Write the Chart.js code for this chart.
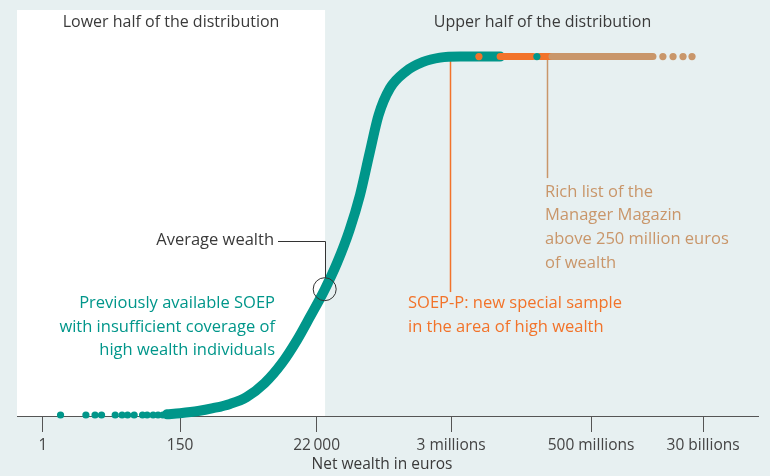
<!DOCTYPE html>
<html><head><meta charset="utf-8">
<script src="https://cdn.jsdelivr.net/npm/chart.js@4/dist/chart.umd.min.js"></script>
<style>html,body{margin:0;padding:0;background:#e7f0f1;}#wrap{width:770px;height:476px;}</style>
</head><body><div id="wrap"><canvas id="c" width="770" height="476"></canvas></div>
<script>
// ---- axis ticks ----
const tickValues = [1, 150, 22000, 3000000, 500000000, 30000000000];
const tickLabels = ['1', '150', '22\u2009000', '3 millions', '500 millions', '30 billions'];

// ---- previously available SOEP: net wealth (euros) and cumulative share ----
const soepWealth = [93, 150, 290, 500, 930, 1700, 3300, 6220, 10760, 17180, 29400, 46400, 73300, 107600, 152800, 212400, 322000, 557000, 1080000, 2000000, 4200000, 18000000];
const soepShare  = [0.002, 0.005, 0.011, 0.019, 0.031, 0.050, 0.089, 0.145, 0.209, 0.273, 0.349, 0.424, 0.516, 0.614, 0.731, 0.837, 0.912, 0.957, 0.985, 0.997, 1.0, 1.0];
// sparse SOEP observations at the lowest wealth levels
const soepLowWealth = [1.9, 4.8, 6.7, 8.5, 14, 18, 22, 28, 38, 45, 56, 67, 80];
const soepLowShare  = [0, 0, 0, 0, 0, 0, 0, 0, 0, 0, 0, 0, 0];
// single SOEP observation among the SOEP-P range
const soepTopWealth = [69000000];
const soepTopShare  = [1.0];

// ---- SOEP-P: new special sample in the area of high wealth ----
const soepPWealthA = [18000000, 60000000];
const soepPShareA  = [1.0, 1.0];
const soepPWealthB = [77000000, 120000000];
const soepPShareB  = [1.0, 1.0];
const soepPDotWealth = [8300000];
const soepPDotShare  = [1.0];

// ---- Rich list of the Manager Magazin ----
const richWealth = [120000000, 4800000000];
const richShare  = [1.0, 1.0];
const richDotWealth = [6900000000, 10000000000, 14400000000, 20000000000];
const richDotShare  = [1.0, 1.0, 1.0, 1.0];

// ---- annotation anchors (data values) ----
const lowerHalfLimit = 30000;
const averageWealth = 29600;
const averageShare = 0.351;
const soepPMarkerWealth = 3000000;
const soepPMarkerShare = 0.343;
const richMarkerWealth = 100000000;
const richMarkerShare = 0.661;

const TEAL = '#00968a', ORANGE = '#f2732a', TAN = '#c9966a', TXT = '#3a3a3a';
const FONT = "'Open Sans', sans-serif";

const pts = (xs, ys) => xs.map((x, i) => ({ x: x, y: ys[i] }));

const lineDs = (data, color, width, order) => ({
  data, showLine: true, borderColor: color, borderWidth: width, borderCapStyle: 'round',
  borderJoinStyle: 'round', cubicInterpolationMode: 'monotone', pointRadius: 0, clip: false, order
});
const dotDs = (data, color, order) => ({
  data, showLine: false, pointRadius: 3.6, pointBorderWidth: 0,
  pointBackgroundColor: color, clip: false, order
});

const bgPlugin = {
  id: 'bg',
  beforeDraw(chart) {
    const { ctx, chartArea: a, scales: { x } } = chart;
    ctx.save();
    ctx.fillStyle = '#e7f0f1';
    ctx.fillRect(0, 0, chart.width, chart.height);
    ctx.fillStyle = '#ffffff';
    const xr = x.getPixelForValue(lowerHalfLimit);
    ctx.fillRect(a.left, a.top, xr - a.left, a.bottom - a.top);
    ctx.restore();
  },
  beforeDatasetsDraw(chart) {
    const { ctx, scales: { x, y } } = chart;
    ctx.save();
    ctx.lineWidth = 1.5;
    const yTop = y.getPixelForValue(1.0);
    ctx.strokeStyle = ORANGE;
    let px = Math.round(x.getPixelForValue(soepPMarkerWealth)) - 0.5;
    ctx.beginPath(); ctx.moveTo(px, yTop); ctx.lineTo(px, y.getPixelForValue(soepPMarkerShare)); ctx.stroke();
    ctx.strokeStyle = TAN;
    px = Math.round(x.getPixelForValue(richMarkerWealth)) + 0.5;
    ctx.beginPath(); ctx.moveTo(px, yTop); ctx.lineTo(px, y.getPixelForValue(richMarkerShare)); ctx.stroke();
    ctx.restore();
  },
  afterDatasetsDraw(chart) {
    const { ctx, chartArea: a, scales: { x, y } } = chart;
    ctx.save();
    // average wealth marker
    const cx = x.getPixelForValue(averageWealth), cy = y.getPixelForValue(averageShare), r = 11.5;
    ctx.strokeStyle = '#333';
    ctx.lineWidth = 1;
    ctx.beginPath(); ctx.arc(cx, cy, r, 0, Math.PI * 2); ctx.stroke();
    ctx.beginPath();
    ctx.moveTo(278, 241.5); ctx.lineTo(Math.round(cx) + 0.5, 241.5); ctx.lineTo(Math.round(cx) + 0.5, cy - r);
    ctx.stroke();

    ctx.textBaseline = 'middle';
    // headers
    const xm = x.getPixelForValue(lowerHalfLimit);
    ctx.fillStyle = TXT;
    ctx.textAlign = 'center';
    ctx.font = '16px ' + FONT;
    ctx.fillText('Lower half of the distribution', (a.left + xm) / 2, 22);
    ctx.fillText('Upper half of the distribution', (xm + a.right) / 2 + 1, 22);
    ctx.font = '15.5px ' + FONT;
    ctx.fillText('Net wealth in euros', 382, 465);
    ctx.font = '16.5px ' + FONT;
    // average wealth
    ctx.textAlign = 'right';
    ctx.fillText('Average wealth', 274, 240);
    // SOEP label
    ctx.fillStyle = TEAL;
    ['Previously available SOEP', 'with insufficient coverage of', 'high wealth individuals']
      .forEach((t, i) => ctx.fillText(t, 275, 303 + i * 23.8));
    // SOEP-P label
    ctx.textAlign = 'left';
    ctx.fillStyle = ORANGE;
    ['SOEP-P: new special sample', 'in the area of high wealth']
      .forEach((t, i) => ctx.fillText(t, 408, 303 + i * 23.8));
    // Rich list label
    ctx.fillStyle = TAN;
    ['Rich list of the', 'Manager Magazin', 'above 250 million euros', 'of wealth']
      .forEach((t, i) => ctx.fillText(t, 545, 192 + i * 23.7));
    ctx.restore();
  }
};

new Chart(document.getElementById('c'), {
  type: 'scatter',
  data: {
    datasets: [
      lineDs(pts(soepWealth, soepShare), TEAL, 10, 5),
      dotDs(pts(soepLowWealth, soepLowShare), TEAL, 5),
      lineDs(pts(soepPWealthA, soepPShareA), ORANGE, 7, 4),
      lineDs(pts(soepPWealthB, soepPShareB), ORANGE, 7, 4),
      lineDs(pts(richWealth, richShare), TAN, 7, 3),
      dotDs(pts(richDotWealth, richDotShare), TAN, 3),
      dotDs(pts(soepPDotWealth, soepPDotShare), ORANGE, 1),
      dotDs(pts(soepTopWealth, soepTopShare), TEAL, 0)
    ]
  },
  options: {
    responsive: false,
    animation: false,
    devicePixelRatio: 1,
    layout: { padding: { left: 17, right: 12, top: 10, bottom: 0 } },
    plugins: { legend: { display: false }, tooltip: { enabled: false } },
    scales: {
      x: {
        type: 'logarithmic', min: 0.387, max: 2.23e11, bounds: 'data',
        afterBuildTicks: s => { s.ticks = tickValues.map(v => ({ value: v })); },
        afterFit: s => { s.height = 60; },
        ticks: {
          autoSkip: false, maxRotation: 0, minRotation: 0, padding: 4,
          color: '#444', font: { family: FONT, size: 15.5 },
          callback: (v, i) => tickLabels[i]
        },
        grid: { drawOnChartArea: false, drawTicks: true, tickLength: 16, tickColor: '#555', tickWidth: 1 },
        border: { display: true, color: '#555', width: 1 }
      },
      y: { display: false, min: -0.0028, max: 1.13 }
    }
  },
  plugins: [bgPlugin]
});
</script>
</body></html>
